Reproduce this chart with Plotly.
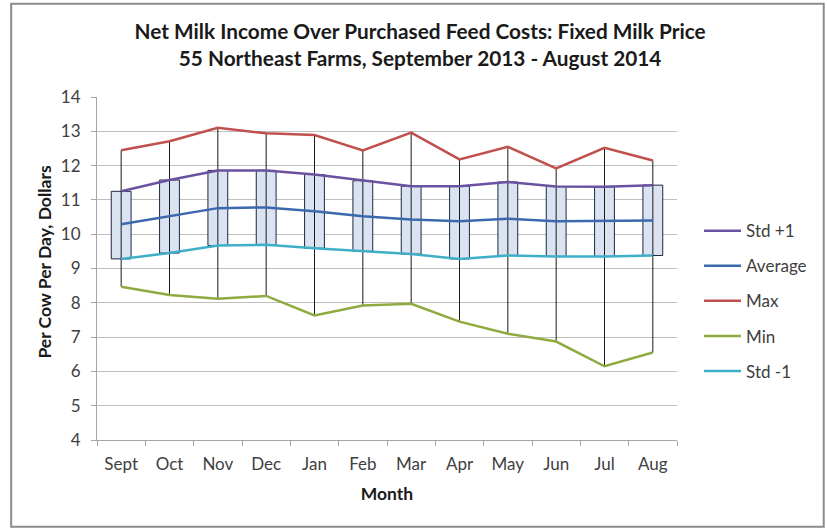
import plotly.graph_objects as go

months = ["Sept", "Oct", "Nov", "Dec", "Jan", "Feb", "Mar", "Apr", "May", "Jun", "Jul", "Aug"]
std_plus = [11.25, 11.58, 11.86, 11.86, 11.74, 11.56, 11.40, 11.40, 11.52, 11.39, 11.38, 11.43]
average = [10.29, 10.52, 10.76, 10.78, 10.67, 10.52, 10.43, 10.38, 10.45, 10.38, 10.38, 10.40]
maximum = [12.45, 12.71, 13.10, 12.94, 12.89, 12.44, 12.96, 12.18, 12.55, 11.92, 12.52, 12.15]
minimum = [8.47, 8.23, 8.12, 8.20, 7.63, 7.92, 7.97, 7.45, 7.10, 6.87, 6.15, 6.55]
std_minus = [9.28, 9.45, 9.67, 9.69, 9.59, 9.50, 9.42, 9.28, 9.38, 9.35, 9.35, 9.38]

y_ticks = list(range(4, 15))

FONT = "Lato, Carlito, 'Open Sans', sans-serif"

fig = go.Figure()

# Up/down bars (Std +1 to Std -1)
fig.add_trace(go.Bar(
    x=months,
    y=[p - m for p, m in zip(std_plus, std_minus)],
    base=std_minus,
    width=0.41,
    marker=dict(color="#D9E3F1", line=dict(color="#22263F", width=1)),
    showlegend=False,
    hoverinfo="skip",
))

# High-low lines
hl_x, hl_y = [], []
for m, lo, hi in zip(months, minimum, maximum):
    hl_x += [m, m, None]
    hl_y += [lo, hi, None]
fig.add_trace(go.Scatter(
    x=hl_x, y=hl_y, mode="lines",
    line=dict(color="#1A1A1A", width=1),
    showlegend=False, hoverinfo="skip",
))

series = [
    ("Std +1", std_plus, "#6B52A0"),
    ("Average", average, "#3C68AE"),
    ("Max", maximum, "#C0504D"),
    ("Min", minimum, "#8FAA3F"),
    ("Std -1", std_minus, "#3FAFC8"),
]
for i, (name, vals, col) in enumerate(series):
    fig.add_trace(go.Scatter(
        x=months, y=vals, mode="lines", name=name,
        line=dict(color=col, width=2.5),
        legendgroup=f"g{i}",
    ))

# Outer chart border
fig.add_shape(type="rect", xref="paper", yref="paper",
              x0=-0.148, x1=1.253, y0=-0.253, y1=1.272,
              line=dict(color="#8C8C8C", width=2), fillcolor="rgba(0,0,0,0)",
              layer="below")

# Y axis title as annotation (to position it like the reference)
fig.add_annotation(
    text="<b>Per Cow Per Day, Dollars</b>", textangle=-90,
    xref="paper", yref="paper", x=-0.0897, y=0.52,
    xanchor="center", yanchor="middle", showarrow=False,
    font=dict(family=FONT, size=17.5, color="#1A1A1A"),
)

fig.update_layout(
    width=827, height=529,
    margin=dict(l=97, r=150, t=97, b=89),
    paper_bgcolor="white", plot_bgcolor="white",
    font=dict(family=FONT, size=17, color="#404040"),
    title=dict(
        text="<b>Net Milk Income Over Purchased Feed Costs: Fixed Milk Price<br>55 Northeast Farms, September 2013 - August 2014</b>",
        x=0.508, xanchor="center", xref="container",
        y=0.926, yanchor="top", yref="container",
        font=dict(family=FONT, size=20.8, color="#1A1A1A"),
    ),
    barmode="overlay",
    showlegend=True,
    legend=dict(
        x=1.038, xanchor="left", y=0.405, yanchor="middle",
        tracegroupgap=10, itemwidth=37,
        font=dict(family=FONT, size=17, color="#404040"),
        bgcolor="rgba(0,0,0,0)",
    ),
    xaxis=dict(
        type="category", categoryorder="array", categoryarray=months,
        range=[-0.5, 11.5],
        showline=True, linecolor="#A6A6A6", linewidth=1,
        ticks="outside", tickson="boundaries", ticklen=5, tickcolor="#A6A6A6",
        showgrid=False,
        ticklabelstandoff=9,
        tickfont=dict(family=FONT, size=17, color="#404040"),
        title=dict(text="<b>Month</b>", font=dict(family=FONT, size=17.5, color="#1A1A1A"), standoff=14),
    ),
    yaxis=dict(
        range=[4, 14], tickvals=y_ticks, ticktext=[str(v) for v in y_ticks],
        showline=True, linecolor="#A6A6A6", linewidth=1,
        ticks="outside", ticklen=5, tickcolor="#A6A6A6",
        showgrid=True, gridcolor="#BFBFBF", gridwidth=1,
        zeroline=False,
        ticklabelstandoff=7,
        tickfont=dict(family=FONT, size=17, color="#404040"),
    ),
)

fig.write_html("out.html")
